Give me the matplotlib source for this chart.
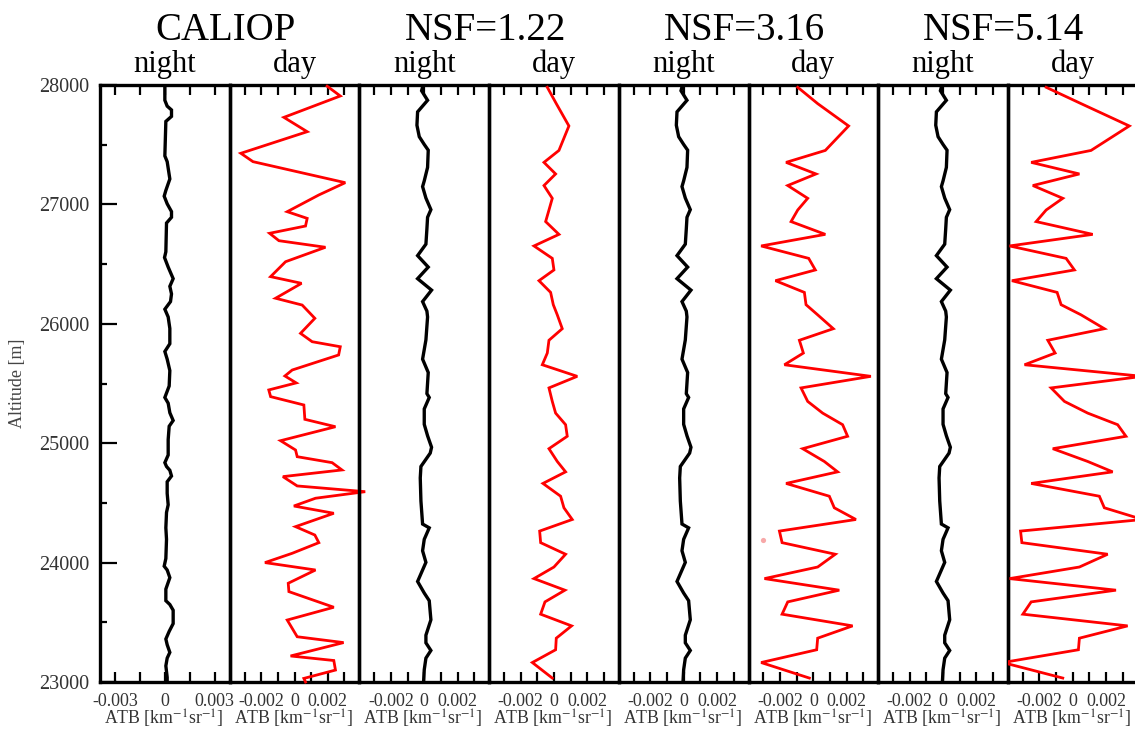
import numpy as np
import matplotlib
matplotlib.use('Agg')
import matplotlib.pyplot as plt
from matplotlib.ticker import MultipleLocator

plt.rcParams['font.family'] = ['Liberation Serif', 'DejaVu Serif']
plt.rcParams['mathtext.fontset'] = 'stix'
plt.rcParams['axes.unicode_minus'] = False

# ---- datos (altitud en m, ATB en km-1 sr-1) ----
group_titles = ['CALIOP', 'NSF=1.22', 'NSF=3.16', 'NSF=5.14']
sub_titles = ['night', 'day']
xlabel_txt = 'ATB [km$^{-1}$sr$^{-1}$]'

# CALIOP noche
caliop_night_alt = [27984, 27872, 27823, 27791, 27737, 27695, 27406, 27358, 27213, 27117,
                    27069, 27005, 26940, 26892, 26844, 26603, 26555, 26475, 26378, 26314,
                    26250, 26186, 26122, 26057, 25961, 25833, 25768, 25704, 25608, 25479,
                    25383, 25335, 25255, 25190, 25142, 25030, 24901, 24837, 24805, 24773,
                    24725, 24677, 24580, 24484, 24420, 24291, 24195, 24034, 23970, 23938,
                    23874, 23778, 23681, 23649, 23601, 23489, 23424, 23360, 23312, 23248,
                    23200, 23135, 23039, 23000]
caliop_night_atb = [0.0, 0.0, 0.00014, 0.0004, 0.0004, 0.00006, 0.0, 0.00014, 0.0003, 0.00006,
                    -0.00004, 0.00014, 0.0004, 0.0004, 0.0001, 0.00006, -0.00002, 0.0002, 0.0005, 0.0003,
                    0.0004, 0.00034, 0.0, 0.0002, 0.0003, 0.0003, 0.0, 0.00014, 0.0003, 0.00026,
                    0.0, 0.0002, 0.0003, 0.0005, 0.00026, 0.0002, 0.0002, 0.0, 0.0001, 0.0003,
                    0.0004, 0.00014, 0.00014, 0.0002, 0.0001, 0.00006, 0.0001, 0.00006, -0.00004, 0.00014,
                    0.0003, 0.00006, 0.00006, 0.0003, 0.0005, 0.0005, 0.00026, 0.00006, 0.00014, 0.0003,
                    0.00014, 0.00006, 0.00014, 0.00014]

# CALIOP dia
caliop_day_alt = [27990, 27908, 27729, 27609, 27428, 27358, 27182, 27079, 26939, 26883,
                  26819, 26758, 26696, 26641, 26520, 26395, 26339, 26214, 26157, 26046,
                  25920, 25850, 25808, 25739, 25613, 25563, 25505, 25446, 25390, 25320,
                  25200, 25138, 25021, 24943, 24887, 24837, 24776, 24720, 24642, 24594,
                  24539, 24474, 24413, 24301, 24231, 24167, 24078, 24000, 23938, 23827,
                  23757, 23626, 23519, 23379, 23330, 23218, 23180, 23100, 23030, 23000]
caliop_day_atb = [0.00196, 0.00275, -0.00064, 0.00076, -0.00323, -0.0025, 0.00305, 0.00146, -0.00044, 0.00076,
                  0.00066, -0.0015, -0.00094, 0.00186, -0.00054, -0.00144, 0.00042, -0.00114, 0.00046, 0.00122,
                  0.00036, 0.00106, 0.00275, 0.00265, -0.00014, -0.00058, 0.0001, -0.00155, -0.00144, 0.00056,
                  0.00062, 0.00246, -0.00084, 0.00006, 0.00016, 0.00226, 0.00285, -0.0007, 0.00016, 0.00425,
                  0.00126, -0.00004, 0.00236, 0.00006, 0.00122, 0.00146, -0.00014, -0.00178, 0.00126, -0.00038,
                  -0.00034, 0.00236, -0.00044, 0.00016, 0.00295, -0.00024, 0.00236, 0.00246, 0.00056, 0.00066]

# simulaciones: noche (igual en los tres casos)
sim_night_alt = [27984, 27952, 27872, 27775, 27663, 27567, 27502, 27454, 27310, 27197,
                 27149, 27053, 26956, 26892, 26796, 26667, 26571, 26475, 26378, 26282,
                 26186, 26106, 26057, 25865, 25704, 25592, 25415, 25383, 25287, 25158,
                 25062, 24966, 24917, 24805, 24709, 24516, 24323, 24291, 24195, 24099,
                 24002, 23842, 23745, 23681, 23521, 23392, 23328, 23264, 23200, 23103, 23000]
sim_night_atb = [-0.0001, -0.00016, 0.0002, -0.0004, -0.00044, -0.0003, 0.0, 0.00024, 0.0002, 0.0,
                 -0.0001, 0.0001, 0.0004, 0.0002, 0.00016, 0.0001, -0.0004, 0.00024, -0.0004, 0.00044,
                 -0.0001, 0.00016, 0.0002, 0.0001, -0.0001, 0.00024, 0.00016, 0.0003, 0.0, 0.0,
                 0.0002, 0.00044, 0.00036, -0.0002, -0.00024, -0.0002, -0.0001, 0.0003, 0.0, -0.0001,
                 0.0001, -0.0004, 0.0, 0.0003, 0.0004, 0.0001, 0.0001, 0.0004, 0.0001, 0.0, -0.00004]

# simulaciones: dia
sim_day_alt = [27981, 27844, 27657, 27452, 27352, 27255, 27158, 27051, 26953, 26856,
               26749, 26652, 26548, 26451, 26361, 26263, 26160, 26075, 25959, 25862,
               25755, 25657, 25560, 25463, 25350, 25252, 25155, 25058, 24954, 24847,
               24760, 24663, 24556, 24459, 24361, 24264, 24167, 24070, 23963, 23866,
               23769, 23671, 23568, 23470, 23367, 23270, 23163, 23033]
nsf122_day = [-0.0004, 0.00014, 0.0009, 0.0003, -0.0006, 0.0001, -0.0006, -0.0001, -0.0003, -0.0005,
              0.0003, -0.0012, -0.0001, 0.0, -0.0009, -0.0002, -0.00004, 0.0002, 0.0005, -0.0003,
              -0.0004, -0.0007, 0.0014, -0.0003, -0.0001, 0.0001, 0.0007, 0.0008, -0.0003, 0.0002,
              0.0007, -0.00066, 0.0004, 0.0006, 0.0011, -0.00086, -0.0008, 0.0007, 0.0, -0.0012,
              0.00066, -0.00054, -0.0008, 0.00106, 0.00014, 0.0001, -0.0013, -0.0001]
nsf316_day = [-0.00094, 0.00026, 0.00212, 0.00072, -0.00164, 0.00016, -0.00154, -0.00034, -0.00094, -0.00134,
              0.00072, -0.00314, -0.00028, 0.00012, -0.00228, -0.00054, -0.00044, 0.00026, 0.0012, -0.00084,
              -0.0006, -0.00174, 0.00346, -0.00074, -0.00034, 0.00056, 0.00176, 0.00206, -0.00064, 0.00066,
              0.00146, -0.00164, 0.00096, 0.00126, 0.00256, -0.00204, -0.00188, 0.00132, 0.00026, -0.00294,
              0.00156, -0.00154, -0.00188, 0.00236, 0.00026, 0.0002, -0.00314, -0.00024]
nsf514_day = [-0.0016, 0.0005, 0.0034, 0.0011, -0.0025, 0.0004, -0.0024, -0.0006, -0.0016, -0.0022,
              0.0012, -0.0038, -0.0004, 0.0001, -0.00366, -0.00094, -0.0007, 0.0005, 0.0019, -0.0015,
              -0.00106, -0.0029, 0.0042, -0.0013, -0.0005, 0.0009, 0.0027, 0.0032, -0.0012, 0.0009,
              0.0024, -0.0025, 0.0016, 0.0019, 0.0042, -0.00314, -0.00306, 0.0021, 0.0004, -0.0038,
              0.0026, -0.0025, -0.003, 0.0033, 0.0004, 0.00034, -0.0042, -0.0006]

# punto rosado aislado en el panel NSF=3.16 dia
stray_alt = [24189]
stray_atb = [-0.0030]

panels = [
    (caliop_night_alt, caliop_night_atb, 'black', 2.4),
    (caliop_day_alt, caliop_day_atb, 'red', 2.0),
    (sim_night_alt, sim_night_atb, 'black', 2.4),
    (sim_day_alt, nsf122_day, 'red', 2.0),
    (sim_night_alt, sim_night_atb, 'black', 2.4),
    (sim_day_alt, nsf316_day, 'red', 2.0),
    (sim_night_alt, sim_night_atb, 'black', 2.4),
    (sim_day_alt, nsf514_day, 'red', 2.0),
]

W, H = 1135, 731
fig = plt.figure(figsize=(W / 100, H / 100), dpi=100)

left0, pw = 100, 129.7
top_px, bot_px = 85, 682
gray = '#333333'

axes = []
for i, (alt, atb, col, lw) in enumerate(panels):
    x0 = left0 + i * pw
    ax = fig.add_axes([x0 / W, 1 - bot_px / H, pw / W, (bot_px - top_px) / H])
    ax.set_facecolor('none')
    ax.plot(atb, alt, color=col, lw=lw, solid_joinstyle='miter',
            clip_on=(i != 1), zorder=3)
    if i == 5:
        ax.scatter(stray_atb, stray_alt, s=14, color='#f7a8a8', lw=0, zorder=3)
    ax.set_ylim(23000, 28000)
    ax.set_xlim(-0.0039, 0.0039)
    for sp in ax.spines.values():
        sp.set_linewidth(2.4)
    if i == 0:
        ticks = [-0.003, -0.0015, 0, 0.0015, 0.003]
        labels = ['-0.003', '', '0', '', '0.003']
    else:
        ticks = [-0.003, -0.002, -0.001, 0, 0.001, 0.002, 0.003]
        labels = ['', '-0.002', '', '0', '', '0.002', '']
    ax.set_xticks(ticks)
    ax.set_xticklabels(labels)
    ax.tick_params(axis='x', which='both', direction='in', top=True, bottom=True,
                   length=7, width=1.6, pad=8, labelsize=13, labelcolor=gray)
    if i == 0:
        ax.yaxis.set_major_locator(MultipleLocator(1000))
        ax.yaxis.set_minor_locator(MultipleLocator(500))
        ax.tick_params(axis='y', which='major', direction='in', left=True, right=False,
                       length=12, width=1.6, pad=8, labelsize=14.5, labelcolor=gray)
        ax.tick_params(axis='y', which='minor', direction='in', left=True, right=False,
                       length=5, width=1.6)
    else:
        ax.tick_params(axis='y', which='both', left=False, right=False, labelleft=False)
    fig.text((x0 + pw / 2 - 1) / W, 1 - 725 / H, xlabel_txt, ha='center', va='baseline',
             fontsize=12.8, color=gray)
    fig.text((x0 + pw / 2) / W, 1 - 72 / H, sub_titles[i % 2], ha='center', va='baseline',
             fontsize=22)
    axes.append(ax)

for g, title in enumerate(group_titles):
    xc = left0 + (2 * g + 1) * pw - 4
    fig.text(xc / W, 1 - 40 / H, title, ha='center', va='baseline', fontsize=28)

fig.text(18 / W, 1 - 383 / H, 'Altitude [m]', rotation=90, ha='center', va='center',
         fontsize=13, color='#444444')

fig.savefig('out.png', dpi=100)
